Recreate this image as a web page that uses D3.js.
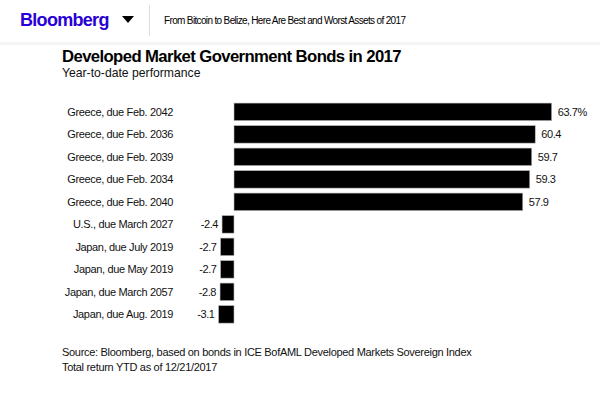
<!DOCTYPE html>
<html>
<head>
<meta charset="utf-8">
<script src="https://cdn.jsdelivr.net/npm/d3@7"></script>
<style>
  body { margin: 0; background: #fff; }
  svg { display: block; }
</style>
</head>
<body>
<div id="chart"></div>
<script>
// Bond names and YTD total return (%)
const bonds = [
  'Greece, due Feb. 2042',
  'Greece, due Feb. 2036',
  'Greece, due Feb. 2039',
  'Greece, due Feb. 2034',
  'Greece, due Feb. 2040',
  'U.S., due March 2027',
  'Japan, due July 2019',
  'Japan, due May 2019',
  'Japan, due March 2057',
  'Japan, due Aug. 2019'
];
const returns = [63.7, 60.4, 59.7, 59.3, 57.9, -2.4, -2.7, -2.7, -2.8, -3.1];
const valueLabels = ['63.7%', '60.4', '59.7', '59.3', '57.9', '-2.4', '-2.7', '-2.7', '-2.8', '-3.1'];

const width = 600, height = 393;
const font = '"Liberation Sans", Arial, sans-serif';

const svg = d3.select('#chart').append('svg')
  .attr('width', width)
  .attr('height', height);

// header strip
svg.append('text')
  .attr('x', 20).attr('y', 26)
  .attr('fill', '#2800d7')
  .attr('font-family', font)
  .attr('font-weight', 700)
  .attr('font-size', '18px')
  .attr('letter-spacing', '-0.7px')
  .text('Bloomberg');

svg.append('path')
  .attr('d', 'M122,16 L134,16 L128,23 Z')
  .attr('fill', '#000');

svg.append('line')
  .attr('x1', 149.5).attr('x2', 149.5)
  .attr('y1', 5).attr('y2', 36)
  .attr('stroke', '#ddd');

svg.append('text')
  .attr('x', 164).attr('y', 24)
  .attr('fill', '#000')
  .attr('font-family', font)
  .attr('font-size', '10px')
  .attr('letter-spacing', '-0.65px')
  .text('From Bitcoin to Belize, Here Are Best and Worst Assets of 2017');

svg.append('rect')
  .attr('x', 0).attr('y', 42)
  .attr('width', width).attr('height', 3)
  .attr('fill', '#f4f4f4');

// titles
svg.append('text')
  .attr('x', 62).attr('y', 62)
  .attr('font-family', font)
  .attr('font-weight', 700)
  .attr('font-size', '16.7px')
  .attr('letter-spacing', '-0.6px')
  .attr('fill', '#000')
  .text('Developed Market Government Bonds in 2017');

svg.append('text')
  .attr('x', 62).attr('y', 77)
  .attr('font-family', font)
  .attr('font-size', '12.2px')
  .attr('fill', '#111')
  .text('Year-to-date performance');

// scales
const x = d3.scaleLinear()
  .domain([0, 63.7])
  .range([234, 551.7]);

const y = d3.scaleBand()
  .domain(bonds)
  .range([100.6, 325.6])
  .paddingInner(0.22)
  .paddingOuter(0.11);

const rows = svg.append('g')
  .selectAll('g')
  .data(bonds)
  .join('g');

rows.append('rect')
  .attr('x', (d, i) => Math.min(x(0), x(returns[i])))
  .attr('y', d => y(d))
  .attr('width', (d, i) => Math.abs(x(returns[i]) - x(0)))
  .attr('height', y.bandwidth())
  .attr('fill', '#000')
  .attr('stroke', '#bbb')
  .attr('stroke-width', 0.6);

rows.append('text')
  .attr('x', 173)
  .attr('y', d => y(d) + y.bandwidth() / 2)
  .attr('dy', '0.35em')
  .attr('text-anchor', 'end')
  .attr('font-family', font)
  .attr('font-size', '11px')
  .attr('letter-spacing', '-0.35px')
  .attr('fill', '#111')
  .text(d => d);

rows.append('text')
  .attr('x', (d, i) => returns[i] >= 0 ? x(returns[i]) + 6 : x(returns[i]) - 4)
  .attr('y', d => y(d) + y.bandwidth() / 2)
  .attr('dy', '0.35em')
  .attr('text-anchor', (d, i) => returns[i] >= 0 ? 'start' : 'end')
  .attr('font-family', font)
  .attr('font-size', '11px')
  .attr('letter-spacing', '-0.4px')
  .attr('fill', '#111')
  .text((d, i) => valueLabels[i]);

// footnotes
const notes = [
  'Source: Bloomberg, based on bonds in ICE BofAML Developed Markets Sovereign Index',
  'Total return YTD as of 12/21/2017'
];
svg.append('g')
  .selectAll('text')
  .data(notes)
  .join('text')
  .attr('x', 62)
  .attr('y', (d, i) => 356 + i * 15)
  .attr('font-family', font)
  .attr('font-size', '11px')
  .attr('letter-spacing', '-0.3px')
  .attr('fill', '#111')
  .text(d => d);
</script>
</body>
</html>
